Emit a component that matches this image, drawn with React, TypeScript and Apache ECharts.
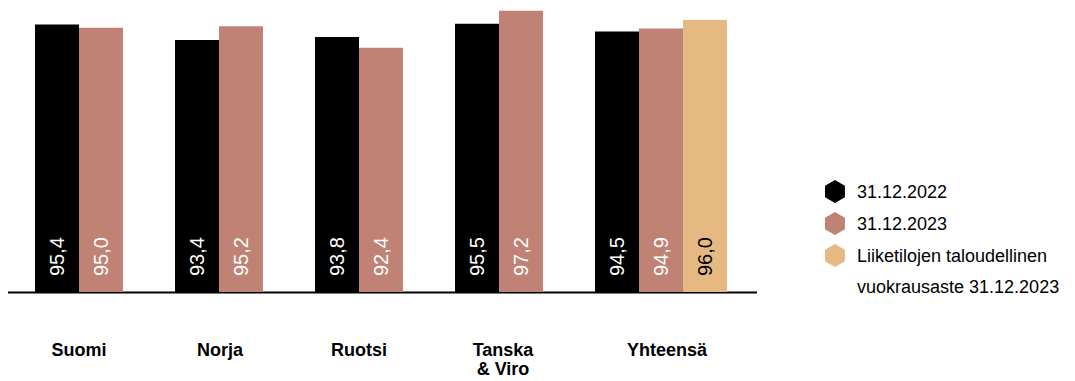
import React, { useEffect, useRef } from "react";
import * as echarts from "echarts";

const categories = ["Suomi", "Norja", "Ruotsi", "Tanska\n& Viro", "Yhteensä"];
const seriesNames = [
  "31.12.2022",
  "31.12.2023",
  "Liiketilojen taloudellinen vuokrausaste 31.12.2023",
];
const values2022 = [95.4, 93.4, 93.8, 95.5, 94.5];
const values2023 = [95.0, 95.2, 92.4, 97.2, 94.9];
const valuesCommercial = [null, null, null, null, 96.0];

const colors = ["#000000", "#bf8274", "#e6b982"];
const labelColors = ["#ffffff", "#ffffff", "#000000"];
const FONT = "'Liberation Sans', Arial, sans-serif";
const HEX = "path://M10,0 L20,5.77 L20,17.32 L10,23.09 L0,17.32 L0,5.77 Z";
// horizontal shift of each category label (px, negative = left)
const labelShift = [-22, -21, -22, -18, 6];

export default function App() {
  const ref = useRef<HTMLDivElement>(null);
  useEffect(() => {
    if (!ref.current) return;
    const chart = echarts.init(ref.current, null, { renderer: "svg" });
    const rich: Record<string, any> = {};
    labelShift.forEach((s, i) => {
      rich["c" + i] = {
        fontSize: 18,
        fontWeight: "bold",
        fontFamily: FONT,
        color: "#000",
        lineHeight: 19,
        padding: s < 0 ? [0, -2 * s, 0, 0] : [0, 0, 0, 2 * s],
      };
    });
    const allValues = [values2022, values2023, valuesCommercial];
    chart.setOption({
      animation: false,
      grid: { left: 31, width: 700, top: 0, height: 292 },
      xAxis: {
        type: "category",
        data: categories,
        axisLine: { show: false },
        axisTick: { show: false },
        axisLabel: {
          margin: 48,
          interval: 0,
          formatter: (v: string, idx: number) =>
            v
              .split("\n")
              .map((l) => `{c${idx}|${l}}`)
              .join("\n"),
          rich,
        },
      },
      yAxis: {
        type: "value",
        min: 60.6,
        max: 98.6,
        show: false,
        splitLine: { show: false },
      },
      legend: {
        orient: "vertical",
        left: 825,
        top: 180,
        padding: 0,
        itemWidth: 20,
        itemHeight: 23,
        itemGap: 9,
        icon: HEX,
        selectedMode: false,
        data: seriesNames,
        formatter: (name: string) =>
          name === seriesNames[2] ? "Liiketilojen taloudellinen" : name,
        textStyle: {
          fontSize: 18,
          fontFamily: FONT,
          color: "#000",
          padding: [0, 0, 0, 7],
        },
      },
      graphic: [
        {
          type: "line",
          shape: { x1: 8, y1: 292.5, x2: 757, y2: 292.5 },
          style: { stroke: "#000", lineWidth: 2 },
          silent: true,
        },
        {
          type: "text",
          left: 857,
          top: 278,
          style: {
            text: "vuokrausaste 31.12.2023",
            fontSize: 18,
            fontFamily: FONT,
            fill: "#000",
          },
          silent: true,
        },
      ],
      series: allValues.map((vals, i) => ({
        name: seriesNames[i],
        type: "bar",
        data: vals,
        barWidth: 44,
        barGap: "0%",
        itemStyle: { color: colors[i] },
        label: {
          show: true,
          position: "insideBottom",
          rotate: 90,
          align: "left",
          verticalAlign: "middle",
          distance: 16,
          color: labelColors[i],
          fontSize: 20,
          fontFamily: FONT,
          formatter: (p: any) =>
            p.value == null ? "" : Number(p.value).toFixed(1).replace(".", ","),
        },
      })),
    });
    return () => chart.dispose();
  }, []);
  return (
    <div
      ref={ref}
      style={{ position: "absolute", left: 0, top: 0, width: 1075, height: 381 }}
    />
  );
}
